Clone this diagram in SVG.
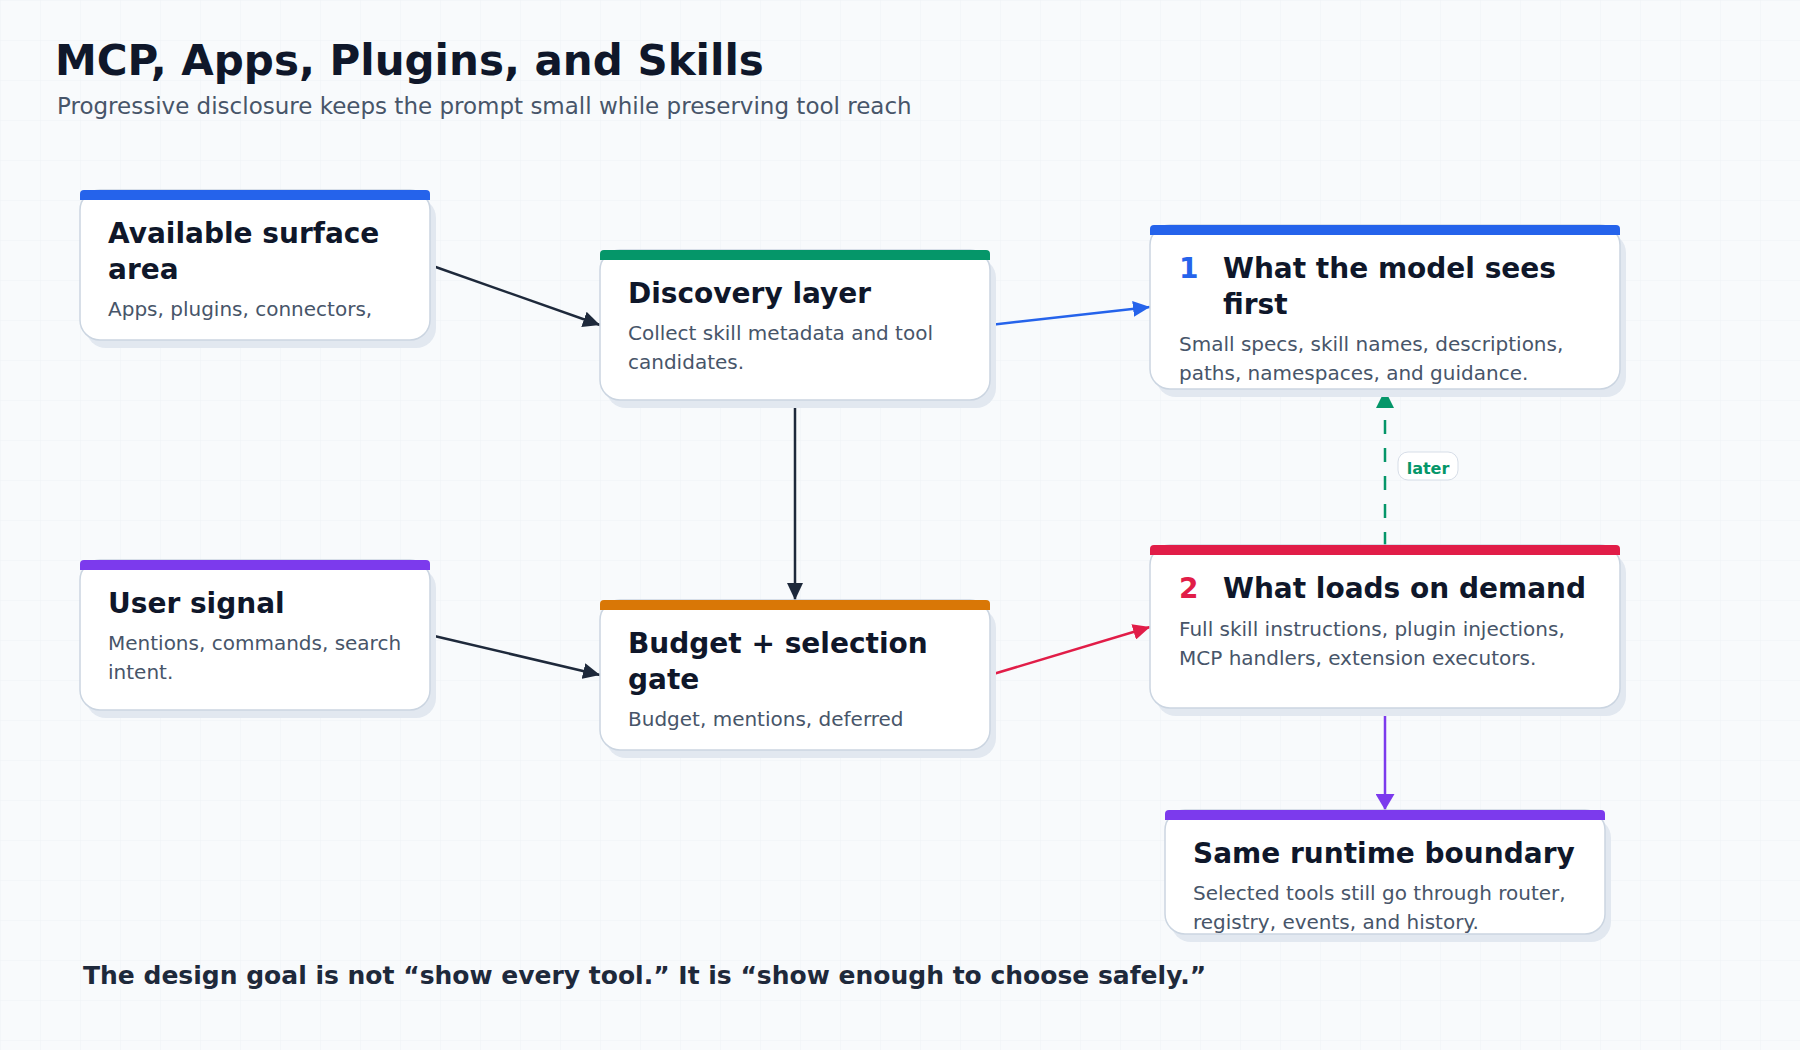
<svg xmlns="http://www.w3.org/2000/svg" width="1800" height="1050" viewBox="0 0 1800 1050">
  <defs>
    <pattern id="grid" width="40" height="40" patternUnits="userSpaceOnUse">
      <path d="M40 0 L0 0 L0 40" fill="none" stroke="#eef1f5" stroke-width="1"/>
    </pattern>
    <marker id="ah-dark" markerWidth="17" markerHeight="16" refX="17" refY="8" orient="auto" markerUnits="userSpaceOnUse"><path d="M0,0 L17,8 L0,16 z" fill="#1e293b"/></marker>
    <marker id="ah-blue" markerWidth="17" markerHeight="16" refX="17" refY="8" orient="auto" markerUnits="userSpaceOnUse"><path d="M0,0 L17,8 L0,16 z" fill="#2563eb"/></marker>
    <marker id="ah-red" markerWidth="17" markerHeight="16" refX="17" refY="8" orient="auto" markerUnits="userSpaceOnUse"><path d="M0,0 L17,8 L0,16 z" fill="#e11d48"/></marker>
    <marker id="ah-green" markerWidth="18" markerHeight="18" refX="18" refY="9" orient="auto" markerUnits="userSpaceOnUse"><path d="M0,0 L18,9 L0,18 z" fill="#059669"/></marker>
    <marker id="ah-purple" markerWidth="16" markerHeight="19" refX="16" refY="9.5" orient="auto" markerUnits="userSpaceOnUse"><path d="M0,0 L16,9.5 L0,19 z" fill="#7c3aed"/></marker>
  </defs>
  <style>
    text { font-family: "DejaVu Sans", "Liberation Sans", sans-serif; }
    .shadow { fill: #e2e8f0; }
    .card { fill: #ffffff; stroke: #cbd5e1; stroke-width: 1.5; }
    .title { font-size: 28px; font-weight: bold; fill: #0f172a; }
    .body { font-size: 20px; fill: #475569; }
    .num { font-size: 28px; font-weight: bold; }
    .conn { fill: none; stroke-width: 2.5; }
  </style>
  <rect x="0" y="0" width="1800" height="1050" fill="#f8fafc"/>
  <rect x="0" y="0" width="1800" height="1050" fill="url(#grid)"/>

  <text x="55" y="75" font-size="42" font-weight="bold" fill="#0f172a">MCP, Apps, Plugins, and Skills</text>
  <text x="57" y="114" font-size="23" fill="#475569">Progressive disclosure keeps the prompt small while preserving tool reach</text>

  <g id="connectors">
    <line class="conn" x1="430" y1="265" x2="600" y2="325" stroke="#1e293b" marker-end="url(#ah-dark)"/>
    <line class="conn" x1="430" y1="635" x2="600" y2="675" stroke="#1e293b" marker-end="url(#ah-dark)"/>
    <line class="conn" x1="795" y1="400" x2="795" y2="600" stroke="#1e293b" marker-end="url(#ah-dark)"/>
    <line class="conn" x1="990" y1="325" x2="1150" y2="307" stroke="#2563eb" marker-end="url(#ah-blue)"/>
    <line class="conn" x1="990" y1="675" x2="1150" y2="627" stroke="#e11d48" marker-end="url(#ah-red)"/>
    <line class="conn" x1="1385" y1="546" x2="1385" y2="390" stroke="#059669" stroke-width="3" stroke-dasharray="14 14" marker-end="url(#ah-green)"/>
    <line class="conn" x1="1385" y1="709" x2="1385" y2="810" stroke="#7c3aed" marker-end="url(#ah-purple)"/>
    <g id="label-later">
      <rect x="1398" y="452" width="60" height="28" rx="10" fill="#ffffff" stroke="#d7dee8" stroke-width="1"/>
      <text x="1428" y="474" font-size="16" font-weight="bold" fill="#059669" text-anchor="middle">later</text>
    </g>
  </g>

  <g id="node-available">
    <rect class="shadow" x="86" y="198" width="350" height="150" rx="20"/>
    <rect class="card" x="80" y="190" width="350" height="150" rx="20"/>
    <path d="M80 200 L80 194 Q80 190 84 190 L426 190 Q430 190 430 194 L430 200 Z" fill="#2563eb"/>
    <text class="title" x="108" y="243">Available surface</text>
    <text class="title" x="108" y="279">area</text>
    <text class="body" x="108" y="316">Apps, plugins, connectors,</text>
  </g>

  <g id="node-discovery">
    <rect class="shadow" x="606" y="258" width="390" height="150" rx="20"/>
    <rect class="card" x="600" y="250" width="390" height="150" rx="20"/>
    <path d="M600 260 L600 254 Q600 250 604 250 L986 250 Q990 250 990 254 L990 260 Z" fill="#059669"/>
    <text class="title" x="628" y="303">Discovery layer</text>
    <text class="body" x="628" y="339.5">Collect skill metadata and tool</text>
    <text class="body" x="628" y="368.5">candidates.</text>
  </g>

  <g id="node-sees-first">
    <rect class="shadow" x="1156" y="233" width="470" height="164" rx="20"/>
    <rect class="card" x="1150" y="225" width="470" height="164" rx="20"/>
    <path d="M1150 235 L1150 229 Q1150 225 1154 225 L1616 225 Q1620 225 1620 229 L1620 235 Z" fill="#2563eb"/>
    <text class="num" x="1179" y="278" fill="#2563eb">1</text>
    <text class="title" x="1223" y="278">What the model sees</text>
    <text class="title" x="1223" y="314">first</text>
    <text class="body" x="1179" y="350.5">Small specs, skill names, descriptions,</text>
    <text class="body" x="1179" y="379.5">paths, namespaces, and guidance.</text>
  </g>

  <g id="node-user-signal">
    <rect class="shadow" x="86" y="568" width="350" height="150" rx="20"/>
    <rect class="card" x="80" y="560" width="350" height="150" rx="20"/>
    <path d="M80 570 L80 564 Q80 560 84 560 L426 560 Q430 560 430 564 L430 570 Z" fill="#7c3aed"/>
    <text class="title" x="108" y="613">User signal</text>
    <text class="body" x="108" y="649.5">Mentions, commands, search</text>
    <text class="body" x="108" y="678.5">intent.</text>
  </g>

  <g id="node-budget">
    <rect class="shadow" x="606" y="608" width="390" height="150" rx="20"/>
    <rect class="card" x="600" y="600" width="390" height="150" rx="20"/>
    <path d="M600 610 L600 604 Q600 600 604 600 L986 600 Q990 600 990 604 L990 610 Z" fill="#d97706"/>
    <text class="title" x="628" y="653">Budget + selection</text>
    <text class="title" x="628" y="689">gate</text>
    <text class="body" x="628" y="725.5">Budget, mentions, deferred</text>
  </g>

  <g id="node-on-demand">
    <rect class="shadow" x="1156" y="553" width="470" height="163" rx="20"/>
    <rect class="card" x="1150" y="545" width="470" height="163" rx="20"/>
    <path d="M1150 555 L1150 549 Q1150 545 1154 545 L1616 545 Q1620 545 1620 549 L1620 555 Z" fill="#e11d48"/>
    <text class="num" x="1179" y="598" fill="#e11d48">2</text>
    <text class="title" x="1223" y="598">What loads on demand</text>
    <text class="body" x="1179" y="635.5">Full skill instructions, plugin injections,</text>
    <text class="body" x="1179" y="664.5">MCP handlers, extension executors.</text>
  </g>

  <g id="node-runtime">
    <rect class="shadow" x="1171" y="818" width="440" height="124" rx="20"/>
    <rect class="card" x="1165" y="810" width="440" height="124" rx="20"/>
    <path d="M1165 820 L1165 814 Q1165 810 1169 810 L1601 810 Q1605 810 1605 814 L1605 820 Z" fill="#7c3aed"/>
    <text class="title" x="1193" y="863">Same runtime boundary</text>
    <text class="body" x="1193" y="899.5">Selected tools still go through router,</text>
    <text class="body" x="1193" y="929">registry, events, and history.</text>
  </g>

  <text x="83" y="984" font-size="25" font-weight="bold" fill="#1e293b">The design goal is not “show every tool.” It is “show enough to choose safely.”</text>
</svg>
